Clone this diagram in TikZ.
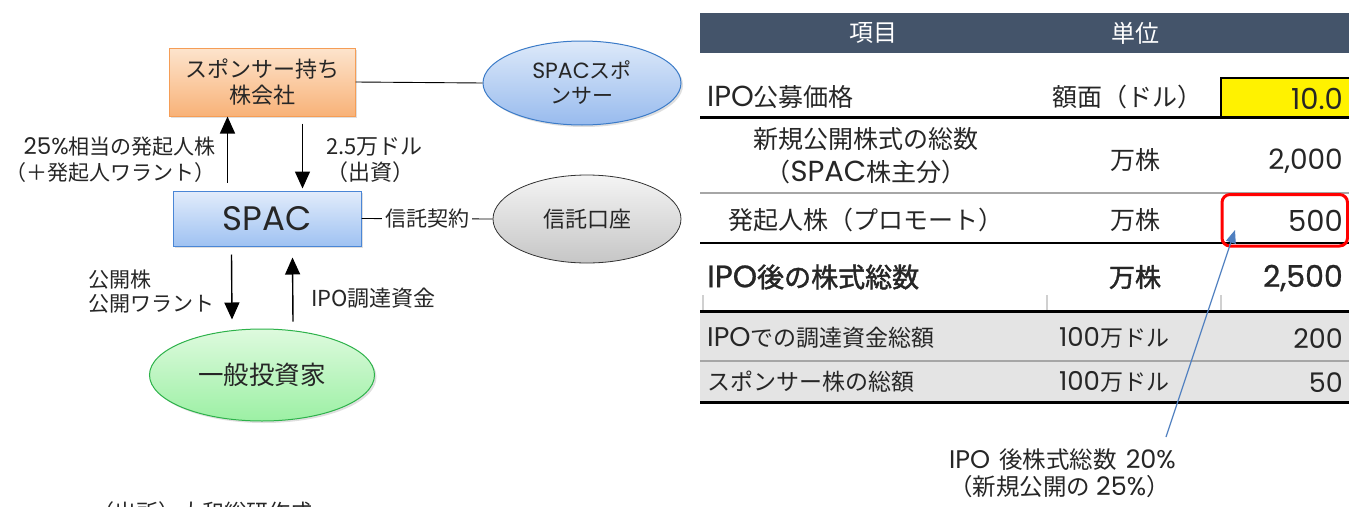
\documentclass[tikz,border=0pt]{standalone}
\usepackage{fontspec}
\setmainfont{Noto Sans CJK JP}
\newfontfamily\lat{Poppins}
\newfontfamily\cjkmed{Noto Sans CJK JP}[FakeBold=1.6]
\newfontfamily\latmed{Poppins}[FakeBold=0.8]
\usetikzlibrary{arrows.meta,shapes.geometric,shadows}
\definecolor{txt}{HTML}{262626}
\definecolor{hdr}{HTML}{44546A}
\definecolor{rowgray}{HTML}{E4E4E4}
\definecolor{sepgray}{HTML}{A6A6A6}
\definecolor{tickgray}{HTML}{D0D0D0}
\definecolor{orTop}{HTML}{FDE4CD}
\definecolor{orBot}{HTML}{F8B278}
\definecolor{orLine}{HTML}{F59D56}
\definecolor{blTop}{HTML}{E2ECFB}
\definecolor{blBot}{HTML}{9FC2F2}
\definecolor{blLine}{HTML}{4A86D6}
\definecolor{elTop}{HTML}{DDE9F9}
\definecolor{elBot}{HTML}{98BBEE}
\definecolor{elLine}{HTML}{3B7BC8}
\definecolor{gyTop}{HTML}{F4F4F4}
\definecolor{gyBot}{HTML}{C6C6C6}
\definecolor{gnTop}{HTML}{DEFADE}
\definecolor{gnBot}{HTML}{9CF0A4}
\definecolor{gnLine}{HTML}{2DB24A}
\definecolor{annBlue}{HTML}{4F7FC0}
\newcommand\LT[2]{{\lat\mdseries\fontsize{#1pt}{#1pt}\selectfont #2}}
\newcommand\LM[2]{{\latmed\fontsize{#1pt}{#1pt}\selectfont #2}}
\begin{document}
\begin{tikzpicture}[x=1pt,y=-1pt,
  nodefont/.style={font=\fontsize{22pt}{26pt}\selectfont,text=txt,align=center,inner sep=0pt},
  shad/.style={drop shadow={opacity=0.25,shadow xshift=2pt,shadow yshift=-2pt}},
  obox/.style={nodefont,rectangle,shading=axis,top color=orTop,bottom color=orBot,draw=orLine,line width=1pt,shad},
  bbox/.style={nodefont,rectangle,shading=axis,top color=blTop,bottom color=blBot,draw=blLine,line width=1pt,shad},
  bell/.style={nodefont,ellipse,shading=axis,top color=elTop,bottom color=elBot,draw=elLine,line width=1pt,shad},
  gell/.style={nodefont,ellipse,shading=axis,top color=gyTop,bottom color=gyBot,draw=black!80,line width=0.8pt},
  grell/.style={nodefont,ellipse,shading=axis,top color=gnTop,bottom color=gnBot,draw=gnLine,line width=1pt,shad},
  lab/.style={text=txt,inner sep=0pt,font=\fontsize{21pt}{26pt}\selectfont},
  conn/.style={draw=black,line width=0.9pt},
  arr/.style={draw=black,line width=1.4pt,-{Triangle[width=15pt,length=17pt]}},
  barr/.style={draw=annBlue,line width=1.2pt,-{Triangle[width=10pt,length=13pt]}},
  tab/.style={text=txt,inner sep=0pt,font=\fontsize{25pt}{33pt}\selectfont},
  tabs/.style={text=txt,inner sep=0pt,font=\fontsize{23pt}{28pt}\selectfont},
  hdrtxt/.style={text=white,inner sep=0pt,font=\fontsize{24pt}{28pt}\selectfont},
  blk/.style={draw=black,line width=3pt},
]
\useasboundingbox (0,0) rectangle (1349,506);
\fill[white] (0,0) rectangle (1349,506);

% ---------- left diagram ----------
\node[obox,minimum width=186pt,minimum height=68pt] (spon) at (262,82) {スポンサー持ち\\株会社};
\node[bbox,minimum width=188pt,minimum height=55pt] (spac) at (267,218.5) {\LT{34}{SPAC}};
\node[bell,minimum width=198pt,minimum height=84pt,font=\fontsize{21pt}{25pt}\selectfont] (spsp) at (582,83) {\LT{22}{SPAC}スポ\\ンサー};
\node[gell,minimum width=188pt,minimum height=88pt] (trust) at (587,219) {信託口座};
\node[grell,minimum width=225pt,minimum height=92pt,font=\fontsize{25.5pt}{28pt}\selectfont] (inv) at (262,375) {一般投資家};

\draw[conn] (spon.east) -- (spsp.west);
\draw[conn] (spac.east) -- node[lab,fill=white,inner sep=3pt] (trlab) {信託契約} (trust.west);

\draw[arr] ([shift={(55,-8)}]spac.north west) -- ([shift={(59,0)}]spon.south west);
\draw[arr] ([shift={(134,7)}]spon.south west) -- ([shift={(130,-2)}]spac.north west);
\draw[arr] ([shift={(59,8)}]spac.south west) -- ([shift={(-30,-9)}]inv.north);
\draw[arr] ([shift={(31,-7)}]inv.north) -- ([shift={(120,11)}]spac.south west);

\node[lab,anchor=east,align=right] (l1) at (216,160) {\LT{23}{25\%}相当の発起人株\\（＋発起人ワラント）};
\node[lab,anchor=west,align=left,font=\fontsize{22pt}{26pt}\selectfont] (l2) at (326,160) {2.5万ドル\\（出資）};
\node[lab,anchor=west,align=left,font=\fontsize{21pt}{24pt}\selectfont] (l3) at (88,292) {公開株\\公開ワラント};
\node[lab,anchor=west,font=\fontsize{22pt}{26pt}\selectfont] (l4) at (311,298) {IPO調達資金};
\node[lab,anchor=west,font=\fontsize{22pt}{26pt}\selectfont] (src) at (92,512) {（出所）大和総研作成};

% ---------- table ----------
\fill[hdr] (700,13) rectangle (1349,53);
\node[hdrtxt] (h1) at (873,33) {項目};
\node[hdrtxt] (h2) at (1135,33) {単位};

\filldraw[fill=yellow,draw=black,line width=1.5pt] (1221,78) rectangle (1351,117);
\fill[rowgray] (700,311) rectangle (1349,402);

\draw[blk] (700,117) -- (1349,117);
\draw[draw=sepgray,line width=1.5pt] (700,193) -- (1349,193);
\draw[draw=black,line width=2.5pt] (700,243) -- (1349,243);
\draw[draw=tickgray,line width=1.2pt] (703,295) -- (703,310) (1047,295) -- (1047,310) (1221,295) -- (1221,310);
\draw[blk] (700,311) -- (1349,311);
\draw[draw=sepgray,line width=1.5pt] (700,361) -- (1349,361);
\draw[blk] (700,402) -- (1349,402);

\node[tab,anchor=west] (r1a) at (707,97) {\LT{29}{IPO}公募価格};
\node[tab] (r1b) at (1127,97) {額面（ドル）};
\node[tab,anchor=east] (r1c) at (1343,99) {\LT{29}{10.0}};

\node[tab,align=center] (r2a) at (866,156) {新規公開株式の総数\\（\LT{29}{SPAC}株主分）};
\node[tab] (r2b) at (1135,160) {万株};
\node[tab,anchor=east] (r2c) at (1343,161) {\LT{28}{2,000}};

\node[tab] (r3a) at (866,220) {発起人株（プロモート）};
\node[tab] (r3b) at (1135,220) {万株};
\node[tab,anchor=east] (r3c) at (1343,221) {\LT{29}{500}};

\node[tab,anchor=west,font=\fontsize{27pt}{30pt}\cjkmed] (r4a) at (707,277) {\LM{31}{IPO}後の株式総数};
\node[tab,font=\fontsize{26pt}{30pt}\cjkmed] (r4b) at (1135,277) {万株};
\node[tab,anchor=east] (r4c) at (1343,278) {\LM{30}{2,500}};

\node[tabs,anchor=west] (r5a) at (707,338) {\LT{27}{IPO}での調達資金総額};
\node[tabs] (r5b) at (1114,338) {\LT{26}{100}万ドル};
\node[tabs,anchor=east] (r5c) at (1343,339) {\LT{27}{200}};

\node[tabs,anchor=west] (r6a) at (707,382) {スポンサー株の総額};
\node[tabs] (r6b) at (1114,382) {\LT{26}{100}万ドル};
\node[tabs,anchor=east] (r6c) at (1343,383) {\LT{27}{50}};

\draw[red,line width=3pt,rounded corners=8pt] (1222,194.5) rectangle (1347.5,246);

\coordinate (annEnd) at (1166,437);
\coordinate (tip) at (1235,230);
\draw[barr] (annEnd) -- (tip);

\node[anchor=west,align=left,text=txt,inner sep=0pt,font=\fontsize{23.5pt}{27.5pt}\selectfont] (ann) at (949,473)
  {\LT{25.5}{IPO}\hspace{9pt}後株式総数\hspace{9pt}\LT{25.5}{20\%}\\（新規公開の\hspace{6pt}\LT{25.5}{25\%}）};
\end{tikzpicture}
\end{document}
